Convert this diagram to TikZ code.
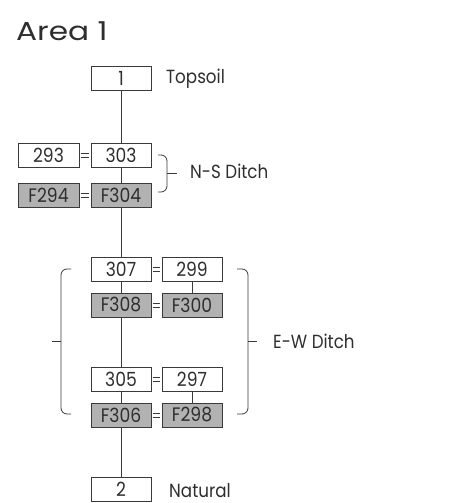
\documentclass[tikz,border=0pt]{standalone}
\usepackage{fontspec}
\setmainfont{Poppins}[FakeStretch=0.88]
\newfontfamily\titlefont{Poppins}[FakeStretch=1.2]
\definecolor{ln}{HTML}{3A3A3A}
\definecolor{tx}{HTML}{2E2E2E}
\definecolor{gf}{HTML}{B2B2B2}
\begin{document}
\begin{tikzpicture}[x=1pt,y=-1pt,
  box/.style={draw=ln,line width=0.8pt,minimum width=60pt,minimum height=24pt,inner sep=0pt,text=tx,font=\fontsize{19.5}{20}\selectfont},
  fbox/.style={box,fill=gf},
  lbl/.style={anchor=base west,inner sep=0pt,text=tx,font=\fontsize{19}{20}\selectfont},
  conn/.style={draw=ln,line width=0.8pt},
  eq/.style={draw=ln,line width=0.7pt,shorten <=1.2pt,shorten >=1.2pt},
  brc/.style={draw=ln,line width=0.8pt,rounded corners=6pt}]
\useasboundingbox (0,0) rectangle (454,503);
\node[lbl,font=\titlefont\fontsize{26}{27}\selectfont] (title) at (16,41) {Area 1};
% left column
\node[box] (b1) at (121,78) {1};
\node[box] (b303) at (121,155) {303};
\node[box,minimum width=61pt] (b293) at (48.5,155) {293};
\node[fbox] (f304) at (121,195) {F304};
\node[fbox,minimum width=61pt] (f294) at (48.5,195) {F294};
\node[box] (b307) at (121,269) {307};
\node[box] (b299) at (192,269) {299};
\node[fbox] (f308) at (121,305) {F308};
\node[fbox] (f300) at (192,305) {F300};
\node[box] (b305) at (121,379) {305};
\node[box] (b297) at (192,379) {297};
\node[fbox] (f306) at (121,415) {F306};
\node[fbox] (f298) at (192,415) {F298};
\node[box] (b2) at (121,489) {2};
% labels
\node[lbl] (topsoil) at (166,83.5) {Topsoil};
\node[lbl] (ns) at (190,178) {N-S Ditch};
\node[lbl] (ew) at (273,348) {E-W Ditch};
\node[lbl] (natural) at (169,497) {Natural};
% vertical connectors
\draw[conn] (b1) -- (b303);
\draw[conn] (b303) -- (f304);
\draw[conn] (f304) -- (b307);
\draw[conn] (b307) -- (f308);
\draw[conn] (f308) -- (b305);
\draw[conn] (b305) -- (f306);
\draw[conn] (f306) -- (b2);
\draw[conn] (b299) -- (f300);
\draw[conn] (b297) -- (f298);
% equalities
\foreach \a/\b in {b293/b303,f294/f304,b307/b299,f308/f300,b305/b297,f306/f298}{
  \draw[eq] ([yshift=-2pt]\a.east) -- ([yshift=-2pt]\b.west);
  \draw[eq] ([yshift=2pt]\a.east) -- ([yshift=2pt]\b.west);
}
% braces
\coordinate (nsTip) at (177,173);
\draw[brc] (158,155) -- (167,155) -- (167,192) -- (158,192);
\draw[conn] (167,173) -- (nsTip);
\coordinate (ewL) at (52,341);
\draw[brc] (71,269) -- (61,269) -- (61,414) -- (71,414);
\draw[conn] (61,341) -- (ewL);
\coordinate (ewR) at (257,341);
\draw[brc] (237,269) -- (248,269) -- (248,414) -- (237,414);
\draw[conn] (248,341) -- (ewR);
\end{tikzpicture}
\end{document}
